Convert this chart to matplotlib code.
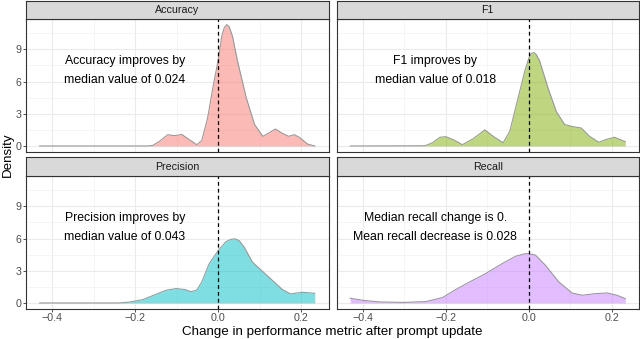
"""Density of metric change per facet, drawn in a ggplot theme_bw style"""
import matplotlib
matplotlib.use("Agg")
import matplotlib.pyplot as plt
from matplotlib.ticker import MultipleLocator

plt.rcParams["font.family"] = ["Liberation Sans", "DejaVu Sans"]

# data: density curves per metric
facets = ["Accuracy", "F1", "Precision", "Recall"]
fill_colors = ["#F8766D", "#7CAE00", "#00BFC4", "#C77CFF"]

acc_x = [-0.43, -0.17, -0.158, -0.142, -0.122, -0.106, -0.088, -0.07, -0.052,
         -0.04, -0.026, -0.012, 0.0, 0.008, 0.014, 0.02, 0.026, 0.034, 0.046,
         0.067, 0.087, 0.107, 0.123, 0.137, 0.153, 0.169, 0.183, 0.195, 0.215,
         0.232]
acc_y = [0.0, 0.0, 0.05, 0.43, 1.05, 0.96, 1.07, 0.59, 0.12,
         0.5, 2.6, 5.7, 8.1, 10.2, 11.0, 11.3, 11.1, 10.2, 7.9,
         4.5, 2.0, 0.9, 1.24, 1.58, 1.2, 0.9, 1.05, 0.8, 0.17,
         0.0]

f1_x = [-0.43, -0.25, -0.232, -0.214, -0.2, -0.18, -0.16, -0.134, -0.106,
        -0.086, -0.062, -0.046, -0.026, -0.01, 0.0, 0.006, 0.012, 0.018,
        0.026, 0.046, 0.066, 0.086, 0.106, 0.126, 0.146, 0.168, 0.186, 0.206,
        0.232]
f1_y = [0.0, 0.02, 0.3, 0.81, 0.87, 0.55, 0.12, 0.68, 1.5,
        0.9, 0.3, 1.36, 4.47, 6.95, 8.2, 8.6, 8.7, 8.5,
        7.9, 5.4, 3.2, 2.0, 1.8, 1.67, 0.9, 0.35, 0.6, 0.81,
        0.4]

prec_x = [-0.43, -0.24, -0.214, -0.182, -0.15, -0.126, -0.102, -0.08, -0.066,
          -0.052, -0.04, -0.022, 0.0, 0.018, 0.03, 0.04, 0.05, 0.062, 0.082,
          0.106, 0.13, 0.154, 0.174, 0.202, 0.232]
prec_y = [0.0, 0.0, 0.08, 0.31, 0.81, 1.18, 1.34, 1.25, 1.05,
          1.2, 1.96, 3.67, 4.9, 5.7, 5.92, 5.97, 5.8, 5.2, 3.8,
          2.95, 2.1, 1.25, 0.84, 1.0, 0.9]

rec_x = [-0.43, -0.4, -0.36, -0.304, -0.248, -0.208, -0.176, -0.144, -0.104,
         -0.064, -0.032, -0.01, 0.0, 0.016, 0.04, 0.072, 0.104, 0.128, 0.16,
         0.188, 0.212, 0.232]
rec_y = [0.44, 0.25, 0.1, 0.05, 0.13, 0.5, 1.25, 1.93, 2.74,
         3.67, 4.35, 4.58, 4.6, 4.45, 3.5, 1.96, 0.93, 0.72, 0.87,
         0.93, 0.72, 0.4]

curves = [(acc_x, acc_y), (f1_x, f1_y), (prec_x, prec_y), (rec_x, rec_y)]

notes = [
    "Accuracy improves by\nmedian value of 0.024",
    "F1 improves by\nmedian value of 0.018",
    "Precision improves by\nmedian value of 0.043",
    "Median recall change is 0.\nMean recall decrease is 0.028",
]
note_pos = (-0.225, 7.0)

x_ticks = [-0.4, -0.2, 0.0, 0.2]
x_tick_labels = ["\u22120.4", "\u22120.2", "0.0", "0.2"]
y_ticks = [0, 3, 6, 9]

W, H = 640, 339
fig = plt.figure(figsize=(W / 100, H / 100), dpi=100)


def px_axes(x0, y0, x1, y1):
    return fig.add_axes([x0 / W, 1 - y1 / H, (x1 - x0) / W, (y1 - y0) / H])


cols = [(26, 328.5), (336.5, 639)]
rows = [(1, 19, 152), (157.5, 176, 309)]

for i, name in enumerate(facets):
    r, c = divmod(i, 2)
    x0, x1 = cols[c]
    s0, p0, p1 = rows[r]

    ax = px_axes(x0, p0, x1, p1)
    ax.set_xlim(-0.463, 0.265)
    ax.set_ylim(-0.56, 11.82)
    ax.set_xticks(x_ticks)
    ax.set_yticks(y_ticks)
    ax.xaxis.set_minor_locator(MultipleLocator(0.1))
    ax.yaxis.set_minor_locator(MultipleLocator(1.5))
    ax.grid(which="major", color="#EBEBEB", lw=0.8)
    ax.grid(which="minor", color="#F2F2F2", lw=0.5)
    ax.set_axisbelow(True)
    for sp in ax.spines.values():
        sp.set_color("#333333")
        sp.set_linewidth(0.8)
    ax.tick_params(which="minor", length=0)
    ax.tick_params(which="major", color="#333333", length=2.2, width=0.6,
                   labelcolor="#4D4D4D", labelsize=7.7, pad=0.8)
    if r == 1:
        ax.set_xticklabels(x_tick_labels)
    else:
        ax.tick_params(axis="x", length=0, labelbottom=False)
    if c == 1:
        ax.tick_params(axis="y", length=0, labelleft=False)

    xs, ys = curves[i]
    ax.fill_between(xs, 0, ys, color=fill_colors[i], alpha=0.5, lw=0)
    ax.plot(xs, ys, color="#999999", lw=0.8)
    ax.axvline(0, color="black", lw=0.9, ls=(0, (3, 2.5)))
    ax.text(note_pos[0], note_pos[1], notes[i], ha="center", va="center",
            fontsize=8.85, linespacing=1.75, color="black")

    strip = px_axes(x0, s0, x1, p0)
    strip.set_facecolor("#D9D9D9")
    strip.set_xticks([])
    strip.set_yticks([])
    for sp in strip.spines.values():
        sp.set_color("#333333")
        sp.set_linewidth(0.8)
    strip.text(0.5, 0.5, name, ha="center", va="center", fontsize=7.7,
               color="#1A1A1A", transform=strip.transAxes)

fig.text(332 / W, 1 - 332 / H, "Change in performance metric after prompt update",
         ha="center", va="center", fontsize=9.65)
fig.text(8 / W, 1 - 155 / H, "Density", ha="center", va="center",
         rotation=90, fontsize=9.65)

fig.savefig("out.png", dpi=100)
